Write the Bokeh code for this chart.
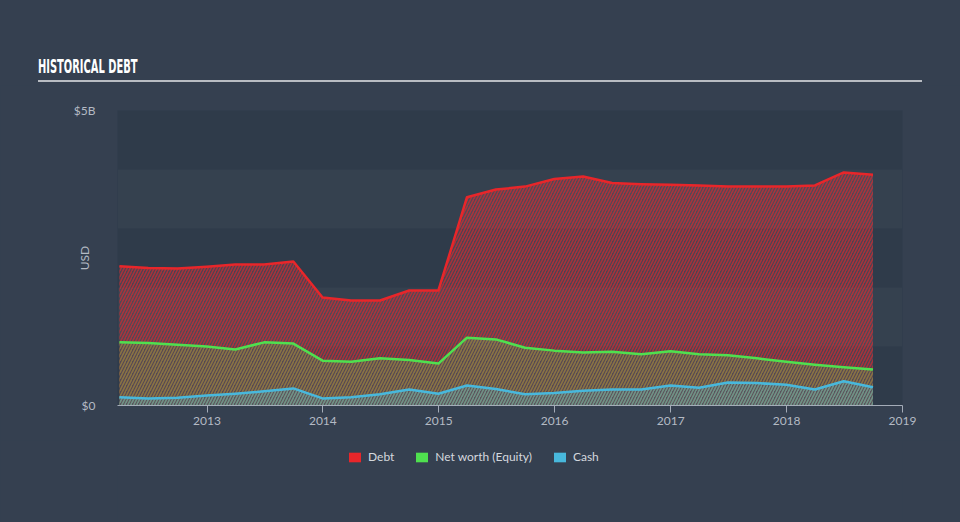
import pandas as pd
from bokeh.plotting import figure
from bokeh.layouts import column
from bokeh.models import (ColumnDataSource, Range1d, FixedTicker, BoxAnnotation,
                          Legend, LegendItem, Div)
from bokeh.embed import file_html
from bokeh.resources import INLINE

# ---- data (USD billions, quarter ends) ----
dates = ["2012-03-31", "2012-06-30", "2012-09-30", "2012-12-31",
         "2013-03-31", "2013-06-30", "2013-09-30", "2013-12-31",
         "2014-03-31", "2014-06-30", "2014-09-30", "2014-12-31",
         "2015-03-31", "2015-06-30", "2015-09-30", "2015-12-31",
         "2016-03-31", "2016-06-30", "2016-09-30", "2016-12-31",
         "2017-03-31", "2017-06-30", "2017-09-30", "2017-12-31",
         "2018-03-31", "2018-06-30", "2018-09-30"]
debt = [2.36, 2.33, 2.32, 2.35, 2.39, 2.39, 2.44, 1.83, 1.78, 1.78, 1.95, 1.95,
        3.53, 3.66, 3.71, 3.84, 3.88, 3.77, 3.75, 3.74, 3.73, 3.71, 3.71, 3.71,
        3.73, 3.95, 3.91]
equity = [1.07, 1.06, 1.03, 1.00, 0.95, 1.07, 1.05, 0.76, 0.74, 0.80, 0.77, 0.71,
          1.15, 1.12, 0.98, 0.93, 0.90, 0.91, 0.87, 0.92, 0.87, 0.85, 0.80, 0.74,
          0.69, 0.65, 0.61]
cash = [0.14, 0.12, 0.13, 0.17, 0.20, 0.24, 0.29, 0.12, 0.14, 0.19, 0.27, 0.20,
        0.34, 0.28, 0.19, 0.21, 0.25, 0.27, 0.27, 0.34, 0.30, 0.39, 0.38, 0.35,
        0.27, 0.41, 0.31]
tick_years = [2013, 2014, 2015, 2016, 2017, 2018, 2019]
series_names = ["Debt", "Net worth (Equity)", "Cash"]
series_colors = ["#e8262a", "#4fe04f", "#48b8dc"]
title_text = "HISTORICAL DEBT"

B = 1e9
src = ColumnDataSource(dict(
    x=pd.to_datetime(dates),
    debt=[v * B for v in debt],
    equity=[v * B for v in equity],
    cash=[v * B for v in cash],
    zero=[0.0] * len(dates),
))

OUTER = "#354050"
DARK = "#2f3b4a"
LIGHT = "#35414f"
TXT = "#b4bac4"
FONT = "Lato"
W = 960
BG = {"background-color": OUTER}

# ---- title strip (HTML) ----
title_html = (
    f'<div style="position:relative;width:{W}px;height:85px;background:{OUTER};">'
    f'<div style="position:absolute;left:38px;top:54px;white-space:nowrap;'
    f'font-family:\'DejaVu Sans Condensed\';font-weight:bold;font-size:20px;'
    f'line-height:24px;color:#ffffff;transform:scaleX(0.55);'
    f'transform-origin:left top;">{title_text}</div>'
    f'<div style="position:absolute;left:38px;top:80px;width:884px;height:2px;'
    f'background:#b8bcc2;"></div></div>'
)
t = Div(text=title_html, width=W, height=85, margin=0, styles=BG)

# ---- main chart ----
p = figure(width=W, height=355, x_axis_type="datetime",
           output_backend="svg", toolbar_location=None,
           x_range=Range1d(pd.Timestamp("2012-03-25"), pd.Timestamp("2019-01-01")),
           y_range=Range1d(0, 5 * B),
           min_border_left=117, min_border_right=58,
           min_border_top=25, min_border_bottom=35, styles=BG)
p.background_fill_color = DARK
p.border_fill_color = OUTER
p.outline_line_color = None
p.grid.visible = False

for lo in (1, 3):
    p.add_layout(BoxAnnotation(bottom=lo * B, top=(lo + 1) * B, fill_color=LIGHT,
                               fill_alpha=1, line_color=None, level="image"))

for key, fill, hatch, fa, ha in [("debt", "#c86070", series_colors[0], 0.20, 0.6),
                                 ("equity", "#90a060", series_colors[1], 0.10, 0.35),
                                 ("cash", "#70b0c0", series_colors[2], 0.12, 0.4)]:
    p.varea(x="x", y1="zero", y2=key, source=src, fill_color=fill, fill_alpha=fa,
            hatch_pattern="/", hatch_color=hatch, hatch_alpha=ha,
            hatch_scale=6, hatch_weight=1.5)
for key, col in zip(["debt", "equity", "cash"], series_colors):
    p.line(x="x", y=key, source=src, line_color=col, line_width=2.5,
           line_join="round")

xa = p.xaxis[0]
tick_ms = [pd.Timestamp(f"{y}-01-01").value / 1e6 for y in tick_years]
xa.ticker = FixedTicker(ticks=tick_ms)
xa.major_label_overrides = {tm: str(y) for tm, y in zip(tick_ms, tick_years)}
xa.axis_line_color = "#a4acb8"
xa.major_tick_line_color = "#a4acb8"
xa.major_tick_in = 0
xa.major_tick_out = 7
xa.minor_tick_line_color = None
xa.major_label_text_color = TXT
xa.major_label_text_font = FONT
xa.major_label_text_font_size = "12px"
xa.major_label_standoff = 4

ya = p.yaxis[0]
ya.ticker = FixedTicker(ticks=[0, 5 * B])
ya.major_label_overrides = {0: "$0", 5 * B: "$5B"}
ya.axis_line_color = None
ya.major_tick_line_color = None
ya.minor_tick_line_color = None
ya.major_label_text_color = TXT
ya.major_label_text_font = FONT
ya.major_label_text_font_size = "12px"
ya.major_label_standoff = 16
ya.axis_label = "USD"
ya.axis_label_text_color = TXT
ya.axis_label_text_font = FONT
ya.axis_label_text_font_style = "normal"
ya.axis_label_text_font_size = "12px"
ya.axis_label_standoff = -21

# ---- legend strip ----
lg = figure(width=W, height=82, output_backend="svg", toolbar_location=None,
            x_range=Range1d(0, 1), y_range=Range1d(0, 1),
            min_border_left=117, min_border_right=58,
            min_border_top=0, min_border_bottom=0, styles=BG)
lg.axis.visible = False
lg.grid.visible = False
lg.outline_line_color = None
lg.background_fill_color = OUTER
lg.border_fill_color = OUTER
items = []
for name, col in zip(series_names, series_colors):
    # off-range placeholder: only its legend swatch is seen
    r = lg.rect(x=[-5], y=[-5], width=0.1, height=0.1, fill_color=col,
                line_color=None)
    items.append(LegendItem(label=name, renderers=[r]))
legend = Legend(items=items, orientation="horizontal", location=(230, 58),
                background_fill_alpha=0, border_line_color=None,
                label_text_color="#d4d8de", label_text_font=FONT,
                label_text_font_size="12px", glyph_width=15, glyph_height=12,
                spacing=20, margin=0, padding=4, label_standoff=6)
lg.add_layout(legend, "center")

layout = column(t, p, lg, spacing=0, styles=BG)
open("out.html", "w").write(file_html(layout, INLINE))
